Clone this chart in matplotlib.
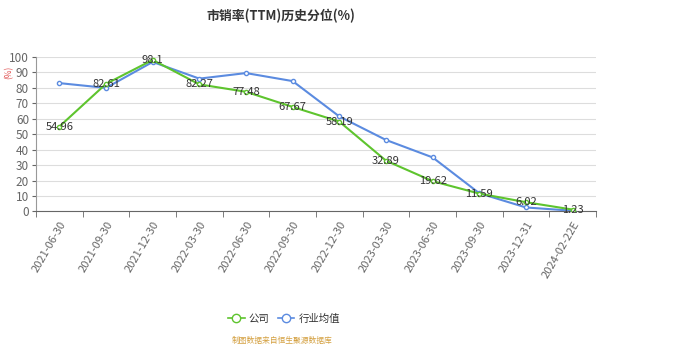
import matplotlib.pyplot as plt
from matplotlib.lines import Line2D

plt.rcParams['font.family'] = ['Noto Sans CJK SC', 'DejaVu Sans']

# Data
dates = ['2021-06-30', '2021-09-30', '2021-12-30', '2022-03-30', '2022-06-30', '2022-09-30',
         '2022-12-30', '2023-03-30', '2023-06-30', '2023-09-30', '2023-12-31', '2024-02-22E']
company = [54.96, 82.61, 98.1, 82.27, 77.48, 67.67, 58.19, 32.89, 19.62, 11.59, 6.02, 1.23]
industry = [83.1, 80.0, 96.8, 86.0, 89.6, 84.4, 61.5, 46.3, 35.0, 11.8, 2.6, 0.5]

green = '#5ec42e'
blue = '#5b8be0'

fig = plt.figure(figsize=(6.73, 3.61), dpi=100)
ax = fig.add_axes([36 / 673, 1 - 211.5 / 361, 560 / 673, 154.5 / 361])

x = list(range(len(dates)))
ax.plot(x, industry, color=blue, lw=1.5, marker='o', ms=3, mfc='white', mec=blue, mew=1, zorder=3)
ax.plot(x, company, color=green, lw=1.5, marker='o', ms=3, mfc='white', mec=green, mew=1, zorder=4)

for xi, v in zip(x, company):
    ax.text(xi, v, f'{v:g}', ha='center', va='center', fontsize=8, color='#333333', zorder=5)

ax.set_xlim(-0.5, len(dates) - 0.5)
ax.set_ylim(0, 100)
ax.set_yticks(range(0, 101, 10))
ax.tick_params(axis='y', labelsize=8.5, colors='#666666', length=3, pad=2)
ax.set_xticks(x)
ax.set_xticklabels(dates, rotation=60, ha='right', rotation_mode='anchor', fontsize=8, color='#666666')
ax.set_xticks([i - 0.5 for i in range(len(dates) + 1)], minor=True)
ax.tick_params(axis='x', which='major', length=0, pad=6)
ax.tick_params(axis='x', which='minor', length=4, color='#666666')
ax.grid(axis='y', color='#dddddd', lw=0.8)
ax.set_axisbelow(True)
for s in ['top', 'right']:
    ax.spines[s].set_visible(False)
ax.spines['left'].set_color('#999999')
ax.spines['bottom'].set_color('#666666')

fig.text(9 / 673, 1 - 72 / 361, '(%)', rotation=90, color='#e05050', fontsize=6, ha='center', va='center')
fig.text(281 / 673, 1 - 16 / 361, '市销率(TTM)历史分位(%)', ha='center', va='center',
         fontsize=9.3, fontweight='bold', color='#333333')

handles = [
    Line2D([], [], color=green, lw=1.2, marker='o', ms=6, mfc='white', mec=green, mew=1),
    Line2D([], [], color=blue, lw=1.2, marker='o', ms=6, mfc='white', mec=blue, mew=1),
]
fig.legend(handles, ['公司', '行业均值'], loc='center', bbox_to_anchor=(284 / 673, 1 - 319 / 361),
           ncol=2, frameon=False, fontsize=7.5, handlelength=1.6, columnspacing=0.8, handletextpad=0.4,
           labelcolor='#333333')
fig.text(282 / 673, 1 - 341 / 361, '制图数据来自恒生聚源数据库', ha='center', va='center',
         fontsize=5.6, color='#d4a040')

fig.savefig('out.png', dpi=100)
